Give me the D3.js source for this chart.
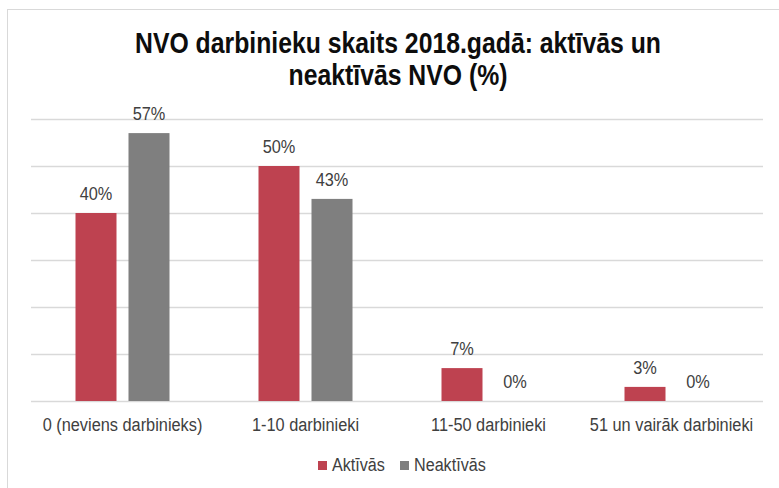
<!DOCTYPE html>
<html><head><meta charset="utf-8">
<script src="https://cdn.jsdelivr.net/npm/d3@7"></script>
<style>body{margin:0;background:#fff}</style>
</head><body>
<svg id="c" width="779" height="488"></svg>
<script>
const categories = ["0 (neviens darbinieks)", "1-10 darbinieki", "11-50 darbinieki", "51 un vairāk darbinieki"];
const seriesNames = ["Aktīvās", "Neaktīvās"];
const aktivas = [0.40, 0.50, 0.07, 0.03];
const neaktivas = [0.57, 0.43, 0.00, 0.00];
const yTicks = [0, 0.1, 0.2, 0.3, 0.4, 0.5, 0.6];
const colors = ["#BE4250", "#7F7F7F"];
const titleLines = ["NVO darbinieku skaits 2018.gadā: aktīvās un", "neaktīvās NVO (%)"];

const FONT = "'Liberation Sans Narrow','Arial Narrow','Liberation Sans',Arial,sans-serif";
const svg = d3.select("#c");

// test narrow availability
const test = svg.append("text").style("font-family", "'Liberation Sans Narrow','Liberation Sans'").style("font-size","20px").text("abcdefghij");
const test2 = svg.append("text").style("font-family", "'Liberation Sans'").style("font-size","20px").text("abcdefghij");
const narrowOK = test.node().getComputedTextLength() < test2.node().getComputedTextLength() * 0.95;
test.remove(); test2.remove();

function condense(sel, k) {
  if (narrowOK) return;
  sel.each(function() {
    const t = d3.select(this);
    const x = +t.attr("x") || 0;
    t.attr("transform", `translate(${x},0) scale(${k},1) translate(${-x},0)`);
  });
}

svg.append("rect").attr("x", 7.5).attr("y", 9.5).attr("width", 800).attr("height", 500)
  .attr("fill", "#fff").attr("stroke", "#D9D9D9");

const y = d3.scaleLinear().domain([0, 0.6]).range([401, 119]);
const x0 = d3.scaleBand().domain(categories).range([31, 763]).padding(0);
const groupW = 94;
const x1 = d3.scaleBand().domain(seriesNames).range([0, groupW]).paddingInner(0.2264);

// gridlines
svg.append("g").selectAll("line").data(yTicks).join("line")
  .attr("x1", 31).attr("x2", 763)
  .attr("y1", d => Math.round(y(d)) + 0.5).attr("y2", d => Math.round(y(d)) + 0.5)
  .attr("stroke", "#D9D9D9").attr("stroke-width", 1.5);

const data = categories.map((c, i) => ({cat: c, vals: [aktivas[i], neaktivas[i]]}));
const groups = svg.append("g").selectAll("g").data(data).join("g")
  .attr("transform", d => `translate(${x0(d.cat) + (x0.bandwidth() - groupW) / 2},0)`);

groups.selectAll("rect").data(d => d.vals.map((v, j) => ({s: seriesNames[j], v, j}))).join("rect")
  .attr("x", d => x1(d.s)).attr("width", x1.bandwidth())
  .attr("y", d => y(d.v)).attr("height", d => y(0) - y(d.v))
  .attr("fill", d => colors[d.j]);

const dl = groups.selectAll("text").data(d => d.vals.map((v, j) => ({s: seriesNames[j], v, j}))).join("text")
  .attr("x", d => x1(d.s) + x1.bandwidth() / 2)
  .attr("y", d => y(d.v) - 13)
  .attr("text-anchor", "middle")
  .style("font-family", FONT).style("font-size", "19px").attr("fill", "#404040")
  .text(d => Math.round(d.v * 100) + "%");
condense(dl, 0.86);

// category labels
const xAxis = d3.axisBottom(x0).tickSize(0).tickPadding(0);
const ax = svg.append("g").attr("transform", "translate(0,401)").call(xAxis);
ax.select(".domain").remove();
const cl = ax.selectAll("text").attr("dy", null).attr("y", 30).attr("x", 0)
  .style("font-family", FONT).style("font-size", "19px").attr("fill", "#404040");
condense(cl, 0.86);

// title
const tt = svg.append("g").selectAll("text").data(titleLines).join("text")
  .attr("x", 398).attr("y", (d, i) => 53 + i * 32)
  .attr("text-anchor", "middle")
  .style("font-family", FONT).style("font-size", "29.5px").style("font-weight", "bold")
  .attr("fill", "#0D0D0D").text(d => d);
condense(tt, 0.84);

// legend
const legX = [318, 400];
const lg = svg.append("g").selectAll("g").data(seriesNames).join("g")
  .attr("transform", (d, i) => `translate(${legX[i]},461)`);
lg.append("rect").attr("width", 9).attr("height", 9).attr("fill", (d, i) => colors[i]);
const lt = lg.append("text").attr("x", 14).attr("y", 10)
  .style("font-family", FONT).style("font-size", "19px").attr("fill", "#404040").text(d => d);
condense(lt, 0.85);
</script>
</body></html>
